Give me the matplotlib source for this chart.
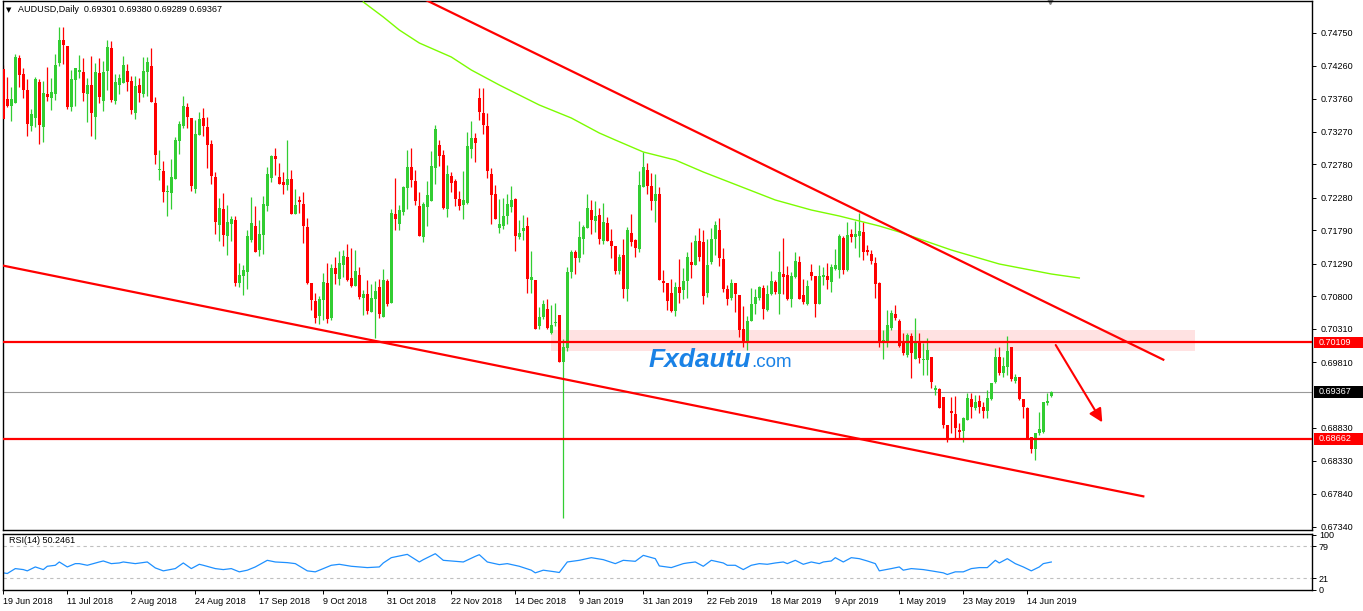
import matplotlib
matplotlib.use('Agg')
import matplotlib.pyplot as plt
from matplotlib.patches import Rectangle
import numpy as np

plt.rcParams['font.family'] = ['Liberation Sans', 'DejaVu Sans']

symbol = 'AUDUSD,Daily'

# daily candles, 19 Jun 2018 .. 21 Jun 2019
opens = [
    .7421, .7376, .73655, .73705, .7437, .74135, .73895, .7336, .7348, .74015,
    .73345, .73835, .73775, .7384, .74305, .74645, .74555, .7364, .74045, .74165,
    .74165, .7384, .7397, .73495, .7415, .73735, .7418, .74525, .73735, .73975,
    .74005, .7418, .7403, .73555, .7397, .7384, .7417, .74255, .737, .727,
    .7268, .7237, .72355, .72565, .73135, .73355, .73635, .73475, .72415, .73225,
    .73475, .7334, .73085, .7259, .71875, .7211, .7171, .7189, .71945, .70995,
    .71105, .7117, .71645, .71855, .71495, .7172, .72155, .72575, .72905, .7259,
    .72515, .7247, .7256, .72035, .72245, .72185, .7184, .71, .7073, .70505,
    .70745, .71, .70475, .71225, .7106, .7127, .7139, .71075, .70955, .7112,
    .70775, .70835, .70565, .7076, .7094, .7049, .7103, .707, .72035, .71885,
    .72065, .72425, .7274, .7253, .72155, .7169, .7214, .7223, .72725, .7307,
    .7292, .7211, .72605, .7253, .7226, .7217, .722, .7301, .73175, .73775,
    .7355, .73355, .72635, .72335, .71825, .71855, .72005, .7214, .7226, .7169,
    .7178, .7185, .71045, .71045, .7036, .7049, .7061, .70255, .704, .7052,
    .6981, .7003, .71165, .71465, .71375, .7166, .71825, .72095, .7193, .7202,
    .7163, .719, .7163, .71555, .7118, .7142, .7091, .7175, .71645, .7151,
    .7244, .72695, .72455, .7223, .72335, .7103, .71, .7085, .7058, .7094,
    .70895, .7103, .71315, .7127, .7163, .71615, .70855, .71315, .7166, .71795,
    .7136, .7091, .70775, .70995, .7082, .7031, .701, .7043, .70685, .70775,
    .70925, .70595, .70835, .71015, .70835, .71135, .7112, .7076, .7109, .71315,
    .7082, .70685, .71165, .71105, .70685, .7109, .71105, .71015, .7121, .71195,
    .71675, .71195, .71735, .7169, .71705, .71765, .71495, .71435, .713, .71,
    .70095, .70095, .7032, .70535, .7043, .70095, .6992, .702, .69855, .70095,
    .69845, .69845, .69885, .69395, .69405, .69285, .6887, .6908, .69035, .68795,
    .68785, .68945, .6926, .6912, .6923, .69135, .69085, .69255, .6952, .69885,
    .69655, .69745, .70035, .6953, .69595, .69255, .6912, .68695, .68505, .68745,
    .6877, .69195, .69301,
]
highs = [
    .7427, .74095, .73945, .7444, .7442, .74225, .7406, .73615, .74095, .7406,
    .7403, .7424, .7408, .7444, .7484, .7484, .74555, .74195, .74225, .7442,
    .7438, .74075, .74405, .74305, .74375, .7433, .74645, .7463, .74135, .74135,
    .74405, .74285, .74105, .74105, .74075, .7439, .7439, .74525, .7379, .72995,
    .7283, .7247, .7286, .7319, .7343, .73805, .73695, .73475, .73445, .7356,
    .73625, .7349, .73145, .7267, .72275, .7235, .7217, .72005, .72005, .71295,
    .7127, .71795, .7229, .72155, .71945, .72305, .7274, .7292, .73025, .728,
    .72665, .73145, .72695, .7241, .72305, .72365, .71975, .71, .7085, .70805,
    .7115, .713, .71285, .7139, .7148, .71495, .71585, .71525, .71495, .7124,
    .70895, .71045, .70985, .7103, .7106, .7121, .7106, .7211, .72575, .7217,
    .72455, .72995, .73025, .72695, .72365, .72215, .7253, .7298, .7337, .73145,
    .72995, .7277, .72665, .7256, .7238, .7268, .73265, .7343, .7325, .73925,
    .73925, .7355, .72725, .7247, .7226, .72275, .72335, .72455, .72275, .71945,
    .7202, .7199, .7148, .71045, .70645, .70745, .7076, .7067, .707, .7052,
    .7016, .7124, .71495, .71495, .7193, .7187, .72335, .72245, .7223, .72125,
    .722, .7199, .7181, .71555, .71435, .7166, .7184, .72035, .7166, .7268,
    .72965, .728, .7265, .72635, .7244, .71195, .71, .7106, .71015, .7136,
    .71225, .71465, .71615, .7172, .71825, .71795, .7166, .71825, .7193, .71975,
    .71525, .7097, .7106, .71, .7082, .70655, .70505, .70925, .7091, .70955,
    .7097, .7097, .7118, .71045, .7148, .71675, .71255, .71165, .71465, .71405,
    .7106, .71045, .71285, .71105, .7127, .7124, .713, .71285, .7151, .71735,
    .71705, .71915, .7181, .7193, .7205, .71915, .7157, .71495, .7139, .7102,
    .70295, .70595, .70595, .7067, .7046, .70245, .70245, .7025, .7047, .70245,
    .70095, .7017, .69885, .6947, .6942, .69285, .6887, .69295, .69305, .68895,
    .68995, .69345, .69345, .6932, .6932, .6922, .69395, .69495, .7002, .70045,
    .69895, .70205, .70035, .69635, .69595, .69255, .69145, .68695, .68745, .6907,
    .6922, .69355, .6938,
]
lows = [
    .73455, .73635, .73435, .73705, .73945, .7378, .7321, .73285, .73345, .7309,
    .7312, .73735, .736, .7375, .7426, .7429, .73615, .73585, .7366, .74075,
    .73735, .7342, .7321, .73165, .73705, .73585, .739, .7372, .7369, .7384,
    .74005, .73885, .7354, .73465, .7372, .73795, .7381, .7372, .7279, .72545,
    .7222, .7201, .72115, .72565, .7294, .7332, .7332, .72385, .72355, .73225,
    .7321, .7273, .7249, .7174, .71635, .7156, .71425, .71635, .70955, .70945,
    .7082, .7091, .7162, .7147, .71405, .71435, .72085, .72515, .7262, .72485,
    .7234, .72395, .72035, .72035, .7205, .716, .70985, .70595, .704, .70385,
    .70445, .704, .70445, .70985, .7097, .71095, .7103, .7094, .70955, .7076,
    .7052, .70535, .70565, .70175, .70475, .7049, .70655, .707, .71795, .71795,
    .7202, .7211, .7244, .7217, .71705, .71615, .71855, .7223, .72485, .72755,
    .7211, .7199, .72365, .72155, .72095, .7196, .72185, .72875, .72815, .73445,
    .73235, .72575, .71885, .7196, .7175, .7181, .71885, .72065, .7148, .7166,
    .71645, .7085, .7085, .70305, .70315, .70465, .70315, .7024, .70355, .6981,
    .6748, .6998, .71075, .71135, .71315, .71435, .71825, .71735, .71765, .71585,
    .71585, .7163, .71375, .71135, .71135, .70775, .7073, .71555, .7139, .71465,
    .7244, .72335, .72095, .71915, .71045, .70865, .70595, .70565, .70505, .707,
    .7076, .70775, .71075, .7127, .7133, .70685, .70795, .71285, .7142, .71255,
    .70865, .7067, .7075, .70565, .7019, .7004, .69995, .7043, .70535, .70745,
    .7046, .7058, .7082, .70835, .70535, .70835, .70745, .7064, .71075, .7076,
    .70685, .7067, .71045, .70495, .70685, .7097, .7091, .70865, .71195, .71075,
    .71135, .7118, .71615, .71525, .7139, .71345, .7142, .71285, .70775, .70045,
    .69855, .70045, .70295, .70445, .70045, .6992, .69895, .6957, .69855, .69795,
    .6962, .6962, .6942, .6932, .6912, .6882, .6862, .68745, .6867, .68655,
    .6862, .68945, .6897, .69095, .69045, .6897, .6897, .69245, .69495, .6962,
    .69595, .6962, .69535, .69505, .69245, .6897, .6867, .68455, .68345, .6872,
    .68755, .6917, .69289,
]
closes = [
    .73455, .73655, .7376, .7439, .7412, .73895, .7339, .73535, .7406, .73375,
    .7385, .73795, .73865, .7427, .74645, .74575, .7364, .7406, .74225, .74195,
    .73855, .7397, .73555, .74165, .73795, .74165, .7454, .73745, .74015, .74075,
    .7427, .7402, .736, .73955, .73855, .7418, .74315, .7372, .72925, .7271,
    .72365, .7238, .7259, .73145, .73385, .73655, .73495, .7246, .73235, .73465,
    .7336, .73075, .7261, .7191, .72125, .71715, .71915, .7196, .71, .71125,
    .71195, .71705, .71895, .7147, .71735, .72185, .72635, .72905, .7286, .72485,
    .7247, .7256, .72035, .7217, .72215, .71855, .71, .70745, .70475, .7076,
    .71015, .7046, .71225, .71135, .713, .71405, .71045, .70955, .7118, .7079,
    .70835, .7058, .70775, .7088, .70535, .71045, .70685, .7205, .7196, .72095,
    .7244, .7274, .72545, .7223, .71705, .72185, .7232, .72755, .7331, .72905,
    .72125, .72635, .725, .7226, .72155, .72245, .73055, .73175, .731, .73565,
    .7337, .7268, .7232, .7196, .71885, .72005, .72185, .72245, .71705, .7175,
    .71825, .7106, .7109, .70315, .7049, .70685, .7033, .7037, .70415, .6981,
    .7004, .71165, .71465, .71375, .7169, .7184, .72125, .71945, .72005, .7166,
    .71915, .7163, .71555, .7118, .7139, .7091, .71795, .71615, .71525, .7247,
    .7274, .72455, .7223, .72335, .71045, .71, .7073, .7058, .7094, .7085,
    .7103, .7139, .7127, .7163, .7139, .708, .7127, .7166, .7187, .71375,
    .7091, .7076, .7100, .70835, .70295, .7013, .7043, .70685, .7079, .7094,
    .7061, .70835, .7103, .70865, .71165, .7109, .7076, .71105, .7133, .7076,
    .70715, .70955, .71105, .70685, .71105, .7112, .71045, .7124, .7127, .71705,
    .71195, .7172, .7169, .71735, .7178, .71465, .71465, .7133, .70985, .70095,
    .70145, .7037, .70545, .70475, .70055, .69945, .7022, .6995, .70095, .6987,
    .69855, .69995, .6952, .6942, .6912, .6887, .68655, .69055, .6882, .6877,
    .6898, .6927, .69135, .6922, .69135, .69085, .6928, .69495, .69885, .69655,
    .69755, .6998, .69555, .69595, .69255, .69135, .6868, .68505, .68745, .68805,
    .6921, .6923, .69367,
]

date_ticks = [0, 16, 32, 48, 64, 80, 96, 112, 128, 144, 160, 176, 192, 208, 224, 240, 256]
date_labels = ['19 Jun 2018', '11 Jul 2018', '2 Aug 2018', '24 Aug 2018', '17 Sep 2018',
               '9 Oct 2018', '31 Oct 2018', '22 Nov 2018', '14 Dec 2018', '9 Jan 2019',
               '31 Jan 2019', '22 Feb 2019', '18 Mar 2019', '9 Apr 2019', '1 May 2019',
               '23 May 2019', '14 Jun 2019']
# 0.69320 is hidden under the current-price box, so left out
price_ticks = [0.74750, 0.74260, 0.73760, 0.73270, 0.72780, 0.72280, 0.71790, 0.71290,
               0.70800, 0.70310, 0.69810, 0.68830, 0.68330, 0.67840, 0.67340]

# moving average (green) read at a few bars
ma_bars = [90, 95, 99, 104, 112, 117, 124, 134, 142, 149, 153, 160, 168, 175, 184, 193,
           202, 209, 214, 219, 224, 237, 249, 262, 269]
ma_vals = [0.75215, 0.74990, 0.74795, 0.74600, 0.74390, 0.74195, 0.73970, 0.73670, 0.73475,
           0.73250, 0.73145, 0.72965, 0.72845, 0.72665, 0.72455, 0.72245, 0.72095, 0.72005,
           0.71930, 0.71855, 0.71765, 0.71495, 0.71285, 0.71135, 0.71075]

rsi_bars = [0, 1, 3, 5, 6, 8, 10, 11, 13, 14, 16, 18, 19, 21, 24, 25, 27, 29, 30, 33,
            36, 38, 40, 43, 45, 47, 49, 50, 53, 55, 57, 59, 61, 63, 66, 68, 71, 73, 76, 78,
            80, 82, 84, 87, 91, 94, 95, 97, 101, 104, 105, 108, 110, 112, 115, 118, 119, 121, 124, 126,
            129, 132, 133, 135, 138, 139, 141, 144, 147, 150, 153, 155, 158, 160, 163, 164, 167, 170, 171, 173,
            175, 177, 180, 181, 183, 185, 187, 189, 191, 193, 195, 196, 198, 200, 202, 204, 205, 207, 208, 210,
            212, 214, 216, 218, 219, 222, 224, 225, 227, 230, 232, 235, 236, 238, 240, 242, 244, 246, 248, 249,
            251, 253, 255, 257, 259, 260, 262]
rsi_vals = [30.6, 29.4, 38.3, 36.5, 34.2, 41.3, 36.5, 42.5, 44.3, 50.3, 41.3, 47.3, 47.3, 44.3, 50.3, 52.1, 47.3, 48.5, 50.3, 47.3,
            50.3, 39.5, 34.2, 38.3, 48.5, 38.3, 46.1, 44.3, 38.3, 36.5, 38.3, 32.4, 35.4, 41.3, 53.3, 50.3, 49.1, 47.3, 34.2, 32.4,
            38.3, 44.3, 46.1, 42.5, 40.1, 41.3, 48.5, 58.1, 64.1, 50.3, 54.5, 65.3, 53.3, 52.1, 50.3, 60.5, 63.5, 50.3, 45.5, 47.3,
            42.5, 35.4, 30.6, 35.4, 32.4, 31.2, 50.3, 53.3, 58.1, 54.5, 47.3, 53.3, 51.5, 62.3, 56.3, 43.1, 40.1, 47.3, 48.5, 50.3,
            42.5, 53.3, 48.5, 44.3, 44.3, 36.5, 44.3, 47.3, 46.1, 48.5, 50.3, 47.3, 53.3, 46.1, 50.3, 47.3, 50.3, 52.1, 58.1, 50.3,
            58.1, 56.3, 52.1, 47.3, 34.2, 38.3, 41.3, 35.4, 38.3, 36.5, 34.2, 30.6, 27.6, 32.4, 32.4, 38.3, 40.1, 40.1, 53.3, 48.5,
            56.3, 47.3, 41.3, 34.2, 41.3, 47.3, 50.2461]

upper_trend = [(100, 0.7541), (290, 0.6985)]
lower_trend = [(0, 0.7126), (285, 0.6780)]
resistance = 0.70109
support = 0.68662
zone = (137, 298, 0.69980, 0.70295)      # bar from, bar to, low, high
arrow_from = (263.1, 0.7007)
arrow_to = (274.75, 0.6891)

# ---- layout (pixels of the 1363x611 picture) ----
W, H = 1363, 611
L, R, T, B = 3, 1312, 1, 530
fig = plt.figure(figsize=(W / 100, H / 100), dpi=100)
ax = fig.add_axes([L / W, 1 - B / H, (R - L) / W, (B - T) / H])
rax = fig.add_axes([L / W, 1 - 590 / H, (R - L) / W, (590 - 534) / H])

# bars are 4 px apart, bar 0 sits at x=3.3
ax.set_xlim((L - 3.3) / 4, (R - 3.3) / 4)
ax.set_ylim(0.7475 - (B - 33) * 0.00015, 0.7475 + (33 - T) * 0.00015)
rax.set_xlim(ax.get_xlim())
rax.set_ylim(-0.5, 101)

for a in (ax, rax):
    for s in a.spines.values():
        s.set_color('black')
        s.set_linewidth(1)

# zone + lines
ax.add_patch(Rectangle((zone[0], zone[2]), zone[1] - zone[0], zone[3] - zone[2],
                       facecolor='#ffe2e2', edgecolor='none', zorder=0))
ax.axhline(closes[-1], color='#999999', lw=0.8, zorder=1)

o = np.array(opens); h = np.array(highs); l = np.array(lows); c = np.array(closes)
idx = np.arange(len(c))
col = np.where(c >= o, '#32cd32', '#ff0000')
ax.vlines(idx, l, h, colors=col, lw=0.9, zorder=2)
ax.bar(idx, np.maximum(np.abs(c - o), 0.00005), bottom=np.minimum(o, c), width=0.78,
       color=col, lw=0, zorder=3)

ax.plot(ma_bars, ma_vals, color='#7cfc00', lw=1, zorder=4)
ax.axhline(resistance, color='#ff0000', lw=1.6, zorder=4)
ax.axhline(support, color='#ff0000', lw=1.6, zorder=4)
ax.plot(*zip(*upper_trend), color='#ff0000', lw=1.6, zorder=4)
ax.plot(*zip(*lower_trend), color='#ff0000', lw=1.6, zorder=4)
ax.annotate('', xy=arrow_to, xytext=arrow_from,
            arrowprops=dict(arrowstyle='-|>', color='#ff0000', lw=1.5, mutation_scale=20,
                            shrinkA=0, shrinkB=0), zorder=5)

# watermark
ax.text(161.2, 0.6974, 'Fxdautu', fontsize=19, style='italic', weight='bold',
        color='#1a82e6', zorder=6)
ax.text(187.0, 0.6974, '.com', fontsize=13.5, color='#1a82e6', zorder=6)

# right price scale
ax.set_xticks([])
ax.yaxis.tick_right()
ax.set_yticks(price_ticks)
ax.set_yticklabels([f'{p:.5f}' for p in price_ticks])
ax.tick_params(axis='y', length=3, width=0.7, pad=3, labelsize=6.5, colors='black')


def price_box(y, fc):
    tr = ax.get_yaxis_transform()
    ax.add_patch(Rectangle((1.0 + 1.5 / (R - L), y - 0.00088), (W - R) / (R - L), 0.00176,
                           transform=tr, facecolor=fc, edgecolor='none', clip_on=False, zorder=7))
    ax.text(1.0 + 7 / (R - L), y, f'{y:.5f}', transform=tr, color='white', fontsize=6.5,
            va='center', ha='left', clip_on=False, zorder=8)


price_box(resistance, '#ff0000')
price_box(support, '#ff0000')
price_box(closes[-1], '#000000')

# top markers / title
ax.plot([(1050 - L) / (R - L)], [1.0], marker='v', ms=5, color='#808080',
        transform=ax.transAxes, clip_on=False)
fig.text(6 / W, 1 - 10 / H, '\u25bc', fontsize=5, family='DejaVu Sans', va='center')
fig.text(18 / W, 1 - 10 / H,
         f'{symbol}  {opens[-1]:.5f} {highs[-1]:.5f} {lows[-1]:.5f} {closes[-1]:.5f}',
         fontsize=6.5, va='center')

# RSI pane
rax.plot(rsi_bars, rsi_vals, color='#1e90ff', lw=0.9)
for lvl in (79, 21):
    rax.axhline(lvl, color='#c0c0c0', lw=0.8, ls=(0, (3, 3)))
rax.text(6 / (R - L), 0.88, f'RSI(14) {rsi_vals[-1]:.4f}', transform=rax.transAxes,
         fontsize=6.5, va='center')
rax.yaxis.tick_right()
rax.set_yticks([0, 21, 79, 100])
rax.set_yticklabels(['0', '21', '79', '100'])
rax.tick_params(axis='y', length=3, width=0.7, pad=2, labelsize=6.5)
rax.set_xticks(date_ticks)
rax.set_xticklabels(date_labels)
rax.tick_params(axis='x', length=3, width=0.7, pad=2, labelsize=6.5)
for lab in rax.get_xticklabels():
    lab.set_horizontalalignment('left')

fig.savefig('out.png', dpi=100)
